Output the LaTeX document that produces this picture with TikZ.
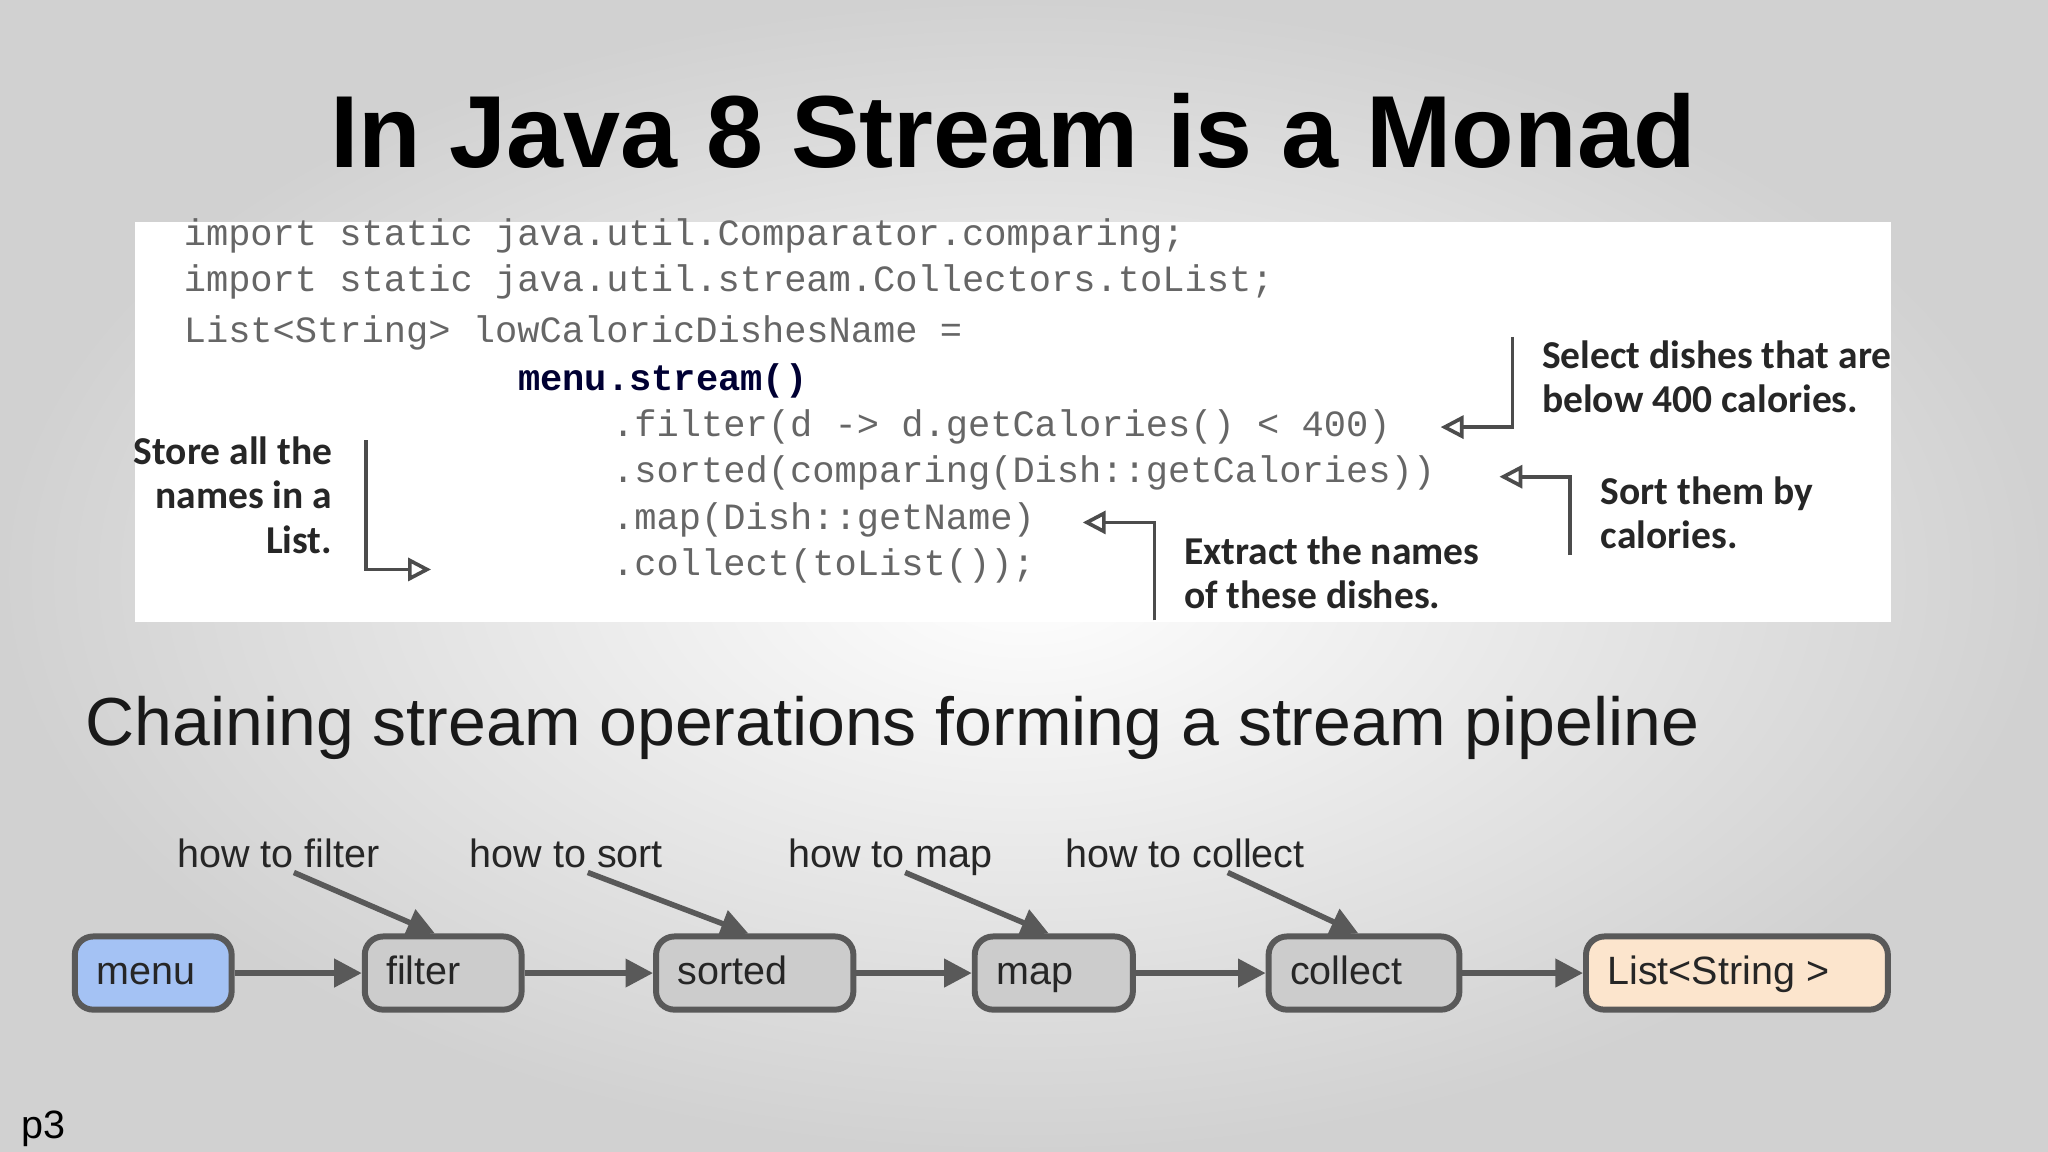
\documentclass[tikz,border=0pt]{standalone}
\usepackage{fontspec}
\setmainfont{Liberation Sans}
\setmonofont{Liberation Mono}
\newfontfamily\annfont{Carlito}
\usetikzlibrary{arrows.meta}
\definecolor{codegray}{HTML}{666666}
\definecolor{menublue}{HTML}{A4C2F4}
\definecolor{boxgray}{HTML}{CCCCCC}
\definecolor{listorange}{HTML}{FCE5CD}
\definecolor{edgegray}{HTML}{595959}
\tikzset{
  code/.style={anchor=west,inner sep=0,font=\ttfamily\fontsize{8.07}{9}\selectfont,text=codegray},
  ann/.style={inner sep=0,font=\annfont\bfseries\fontsize{8.6}{9.6}\selectfont,text=black!85},
  bracket/.style={draw=black!70,line width=0.8pt,-{Triangle[open,length=5pt,width=5pt]}},
  pipe/.style={draw=edgegray,line width=1.3pt,rounded corners=4pt,minimum height=0.56cm,inner sep=0,anchor=west},
  flow/.style={draw=edgegray,line width=1.2pt,-{Triangle[length=6pt,width=6pt]}},
  hint/.style={inner sep=0,font=\fontsize{8.6}{10}\selectfont,text=black!85},
  lbl/.style={hint,text height=6.3pt,text depth=1.8pt},
}
\begin{document}
\begin{tikzpicture}[x=0.01cm,y=-0.01cm]
\useasboundingbox (0,0) rectangle (1568,882);
\shade[inner color=white,outer color=black!18] (0,0) rectangle (1568,882);
\node[font=\bfseries\fontsize{22.3}{26}\selectfont,inner sep=0] (title) at (776,100) {In Java 8 Stream is a Monad};
\fill[white] (103,170) rectangle (1448,476);
\node[code] (c1) at (140,181) {import static java.util.Comparator.comparing;};
\node[code] (c2) at (140,216) {import static java.util.stream.Collectors.toList;};
\node[code] (c3) at (140,255) {List<String> lowCaloricDishesName =};
\node[code,text=black!80!blue,font=\ttfamily\bfseries\fontsize{8.07}{9}\selectfont] (c4) at (396,292) {menu.stream()};
\node[code] (c5) at (468,327) {.filter(d -> d.getCalories() < 400)};
\node[code] (c6) at (468,362) {.sorted(comparing(Dish::getCalories))};
\node[code] (c7) at (468,398) {.map(Dish::getName)};
\node[code] (c8) at (468,433) {.collect(toList());};
% annotations
\node[ann,align=left,anchor=north west] (a1) at (1180,260) {Select dishes that are\\below 400 calories.};
\coordinate (t1) at (1158,258); \coordinate (k1) at (1158,327); \coordinate (e1) at (1103,327);
\draw[bracket] (t1) -- (k1) -- (e1);
\node[ann,align=left,anchor=north west] (a2) at (1225,364) {Sort them by\\calories.};
\coordinate (t2) at (1202,425); \coordinate (k2) at (1202,365); \coordinate (e2) at (1148,365);
\draw[bracket] (t2) -- (k2) -- (e2);
\node[ann,align=left,anchor=north west] (a3) at (906,410) {Extract the names\\of these dishes.};
\coordinate (t3) at (884,475); \coordinate (k3) at (884,400); \coordinate (e3) at (829,400);
\draw[bracket] (t3) -- (k3) -- (e3);
\node[ann,align=right,anchor=north east] (a4) at (255,334) {Store all the\\names in a\\List.};
\coordinate (t4) at (280,337); \coordinate (k4) at (280,436); \coordinate (e4) at (330,436);
\draw[bracket] (t4) -- (k4) -- (e4);
% subtitle
\node[anchor=west,inner sep=0,font=\fontsize{14.8}{16}\selectfont,text=black!90] (sub) at (65,557) {Chaining stream operations forming a stream pipeline};
% pipeline
\node[pipe,fill=menublue,minimum width=1.2cm] (menu) at (55,745) {};
\node[pipe,fill=boxgray,minimum width=1.2cm] (filter) at (277,745) {};
\node[pipe,fill=boxgray,minimum width=1.51cm] (sorted) at (500,745) {};
\node[pipe,fill=boxgray,minimum width=1.21cm] (map) at (744,745) {};
\node[pipe,fill=boxgray,minimum width=1.46cm] (collect) at (969,745) {};
\node[pipe,fill=listorange,minimum width=2.31cm] (list) at (1212,745) {};
\foreach \n/\t in {menu/menu,filter/filter,sorted/sorted,map/map,collect/collect,list/{List<String >}}{
  \node[lbl,anchor=west] at ([xshift=0.18cm,yshift=-0.01cm]\n.west) {\t};}
\draw[flow] (menu) -- (filter);
\draw[flow] (filter) -- (sorted);
\draw[flow] (sorted) -- (map);
\draw[flow] (map) -- (collect);
\draw[flow] (collect) -- (list);
\node[lbl,anchor=west] (h1) at (135,656) {how to filter};
\node[lbl,anchor=west] (h2) at (359,656) {how to sort};
\node[lbl,anchor=west] (h3) at (603,656) {how to map};
\node[lbl,anchor=west] (h4) at (815,656) {how to collect};
\coordinate (s1) at (225,668); \coordinate (s2) at (450,668); \coordinate (s3) at (693,668); \coordinate (s4) at (940,668);
\draw[flow] (s1) -- (filter.north -| 333,0);
\draw[flow] (s2) -- (sorted.north -| 573,0);
\draw[flow] (s3) -- (map.north -| 803,0);
\draw[flow] (s4) -- (collect.north -| 1040,0);
\node[anchor=west,inner sep=0,font=\fontsize{8.6}{10}\selectfont] (p3) at (16,864) {p3};
\end{tikzpicture}
\end{document}
